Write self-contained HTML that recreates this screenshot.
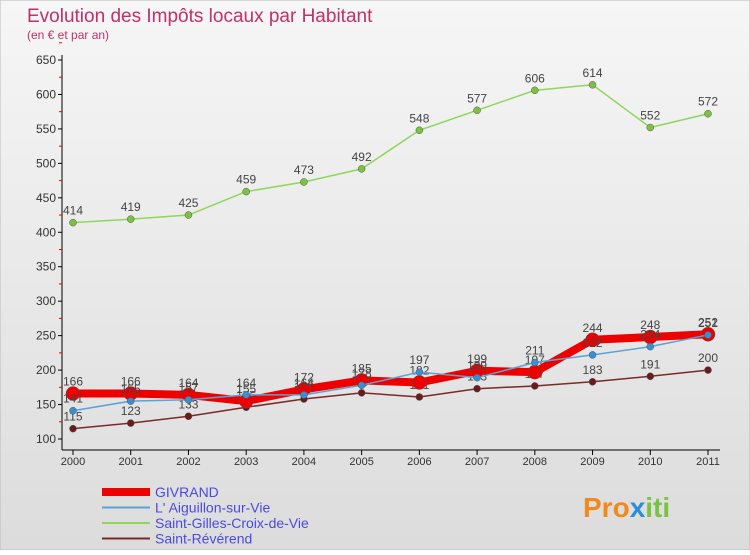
<!DOCTYPE html>
<html><head><meta charset="utf-8"><style>
body{margin:0;width:750px;height:550px;overflow:hidden;font-family:"Liberation Sans",sans-serif}
svg text{font-family:"Liberation Sans",sans-serif}
</style></head><body>
<svg id="c" width="750" height="550">
<defs><linearGradient id="bg" x1="0" y1="0" x2="0" y2="1"><stop offset="0" stop-color="#f6f6f6"/><stop offset="1" stop-color="#dcdcdc"/></linearGradient></defs>
<rect width="750" height="550" fill="url(#bg)" stroke="#bbb"/>
<text x="27" y="22" font-size="19" fill="#c0306a">Evolution des Impôts locaux par Habitant</text>
<text x="27" y="39" font-size="12" fill="#c0306a">(en € et par an)</text>
<g id="axes"></g><g id="series"></g><g id="legend"></g>
<text x="583" y="517" font-size="28" font-weight="bold" fill="#f08a1c">Pro<tspan fill="#2a8fd6">x</tspan><tspan fill="#7cc242">iti</tspan></text>
</svg>
<script>
const years=[2000,2001,2002,2003,2004,2005,2006,2007,2008,2009,2010,2011];
const givrand=[166,166,164,155,172,185,182,199,197,244,248,252];
const aiguillon=[141,155,157,164,164,178,197,189,211,222,234,251];
const saintGilles=[414,419,425,459,473,492,548,577,606,614,552,572];
const saintReverend=[115,123,133,146,158,167,161,173,177,183,191,200];
const yTicks=[100,150,200,250,300,350,400,450,500,550,600,650];
const NS='http://www.w3.org/2000/svg';
const X=i=>73+i*(635/11);
const Y=v=>439-(v-100)*(379/550);
function mk(t,a,p){const e=document.createElementNS(NS,t);for(const k in a)e.setAttribute(k,a[k]);p.appendChild(e);return e;}
const ax=document.getElementById('axes');
let l=mk('line',{x1:62,y1:55,x2:62,y2:450,stroke:'#000'},ax);


l=mk('line',{x1:62,y1:450,x2:720,y2:450,stroke:'#000'},ax);


yTicks.forEach(v=>{
 mk('line',{x1:58,y1:Y(v),x2:62,y2:Y(v),stroke:'#000'},ax);
 mk('line',{x1:59,y1:Y(v+25),x2:62,y2:Y(v+25),stroke:'#e00'},ax);
 const t=mk('text',{x:56,y:Y(v)+4,'font-size':12,'text-anchor':'end',fill:'#333'},ax);t.textContent=v;
 
 
});
years.forEach((y,i)=>{
 mk('line',{x1:X(i),y1:450,x2:X(i),y2:455,stroke:'#000'},ax);
 const t=mk('text',{x:X(i),y:465,'font-size':11,'text-anchor':'middle',fill:'#333'},ax);t.textContent=y;
 
 
});
const sg=document.getElementById('series');
const defs=[
 {d:saintGilles,c:'#8fd65a',w:1.5,r:3.5,f:'#7cc242',n:'Saint-Gilles-Croix-de-Vie',name:'series-saint-gilles'},
 {d:saintReverend,c:'#7a2a2a',w:1.5,r:3.5,f:'#6a1c1c',n:'Saint-Révérend',name:'series-saint-reverend'},
 {d:givrand,c:'#ee0000',w:8,r:7,f:'#ee0000',n:'GIVRAND',name:'series-givrand'},
 {d:aiguillon,c:'#5aa3d6',w:1.5,r:3.5,f:'#3a8fd0',n:"L' Aiguillon-sur-Vie",name:'series-aiguillon'}];
defs.forEach(s=>{
 const g=mk('g',{},sg);
 
 
 mk('polyline',{points:s.d.map((v,i)=>X(i)+','+Y(v)).join(' '),fill:'none',stroke:s.c,'stroke-width':s.w,'stroke-linejoin':'round'},g);
 s.d.forEach((v,i)=>{
  const p=mk('circle',{cx:X(i),cy:Y(v),r:s.r,fill:s.f,stroke:'#555','stroke-width':0.5},g);
  
  
  const t=mk('text',{x:X(i),y:Y(v)-8,'font-size':12,'text-anchor':'middle',fill:'#444'},g);t.textContent=v;
  
  
 });
});
const lg=document.getElementById('legend');
const leg=[defs[2],defs[3],defs[0],defs[1]];
leg.forEach((s,i)=>{
 const y=492+i*15.5;
 const g=mk('g',{},lg);
 
 
 mk('line',{x1:102,y1:y,x2:150,y2:y,stroke:s.c,'stroke-width':i==0?8:2},g);
 const t=mk('text',{x:155,y:y+5,'font-size':14,fill:'#4a4ae0'},g);t.textContent=s.n;
});
</script>
</body></html>
